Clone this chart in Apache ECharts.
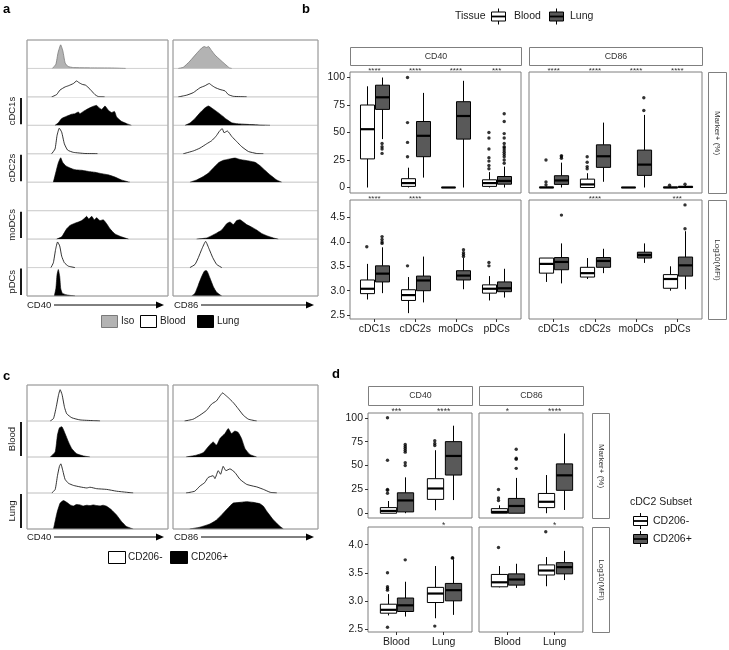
<!DOCTYPE html>
<html><head><meta charset="utf-8">
<script src="https://cdn.jsdelivr.net/npm/echarts@6/dist/echarts.min.js"></script>
<style>html,body{margin:0;padding:0;background:#fff}#c{width:729px;height:650px}</style>
</head><body><div id="c"></div>
<script>
// ---------------- DATA ----------------
// Panel a: density histograms, [x position 0-100 across column, height 0-1 of row]
const aCD40_iso = [[18,0],[20.5,0.15],[22,0.55],[23.9,0.83],[25.5,0.6],[27,0.2],[29,0.07],[33,0.03],[45,0.02],[60,0.015],[70,0]];
const aCD40_cDC1_blood = [[17.5,0],[21,0.08],[23.4,0.24],[27,0.35],[29.3,0.39],[32.9,0.47],[35.2,0.56],[36.9,0.5],[39.2,0.44],[41.6,0.41],[44.7,0.27],[48.2,0.08],[50.6,0.01],[55,0]];
const aCD40_cDC1_lung = [[19.9,0],[22.2,0.09],[24.6,0.24],[28.1,0.32],[31.7,0.39],[34,0.41],[36.4,0.47],[37.5,0.41],[40,0.49],[43.5,0.59],[47,0.67],[49.4,0.7],[51,0.62],[53,0.56],[55.3,0.68],[57.7,0.53],[60,0.45],[62,0.49],[63.6,0.29],[67,0.14],[70.7,0.06],[74,0]];
const aCD40_cDC2_blood = [[17.5,0],[19.9,0.17],[21.3,0.64],[22.9,0.9],[24.6,0.76],[26.5,0.35],[28.8,0.13],[32.9,0.05],[41,0.01],[50,0]];
const aCD40_cDC2_lung = [[18.7,0],[20.3,0.32],[22.2,0.68],[23.9,0.86],[25.3,0.7],[27.4,0.58],[30.5,0.5],[34,0.44],[38.8,0.42],[43.5,0.38],[48.2,0.35],[53,0.3],[57.7,0.26],[62.4,0.18],[67,0.08],[71.9,0.01],[73,0]];
const aCD40_moDC_lung = [[21,0],[24.6,0.08],[28.1,0.36],[30.5,0.48],[34,0.56],[36.4,0.6],[38.8,0.65],[41,0.74],[42.3,0.8],[43.8,0.71],[45.9,0.8],[47.7,0.68],[49.4,0.75],[51.8,0.65],[54,0.68],[56.5,0.54],[58.9,0.36],[62.4,0.18],[67,0.08],[72,0]];
const aCD40_pDC_blood = [[17,0],[18.7,0.17],[20.3,0.64],[21.7,0.9],[23.2,0.76],[24.6,0.4],[26.5,0.17],[29.3,0.05],[34,0]];
const aCD40_pDC_lung = [[19.4,0],[20.5,0.27],[21.3,0.75],[22.2,0.93],[23.2,0.69],[23.9,0.27],[25,0.1],[28,0.04],[34,0]];

const aCD86_iso = [[3.7,0],[7.1,0.04],[11.7,0.26],[16.3,0.53],[19.8,0.72],[21.6,0.77],[23,0.74],[24.6,0.77],[26,0.67],[29,0.47],[32.4,0.31],[35.9,0.15],[38.9,0.02],[40.5,0]];
const aCD86_cDC1_blood = [[3.7,0],[9.4,0.06],[14,0.15],[18.6,0.32],[22,0.39],[25,0.47],[26.6,0.41],[29,0.33],[32.4,0.26],[35.9,0.21],[38.2,0.08],[41.6,0.02],[50.8,0]];
const aCD86_cDC1_lung = [[8.3,0],[11.7,0.08],[15.2,0.24],[18.6,0.44],[22,0.61],[24.4,0.68],[26.7,0.61],[30,0.49],[33.6,0.35],[37,0.21],[40.5,0.09],[43.9,0.06],[50.8,0.035],[60,0.01],[66.9,0]];
const aCD86_cDC2_blood = [[7.1,0],[14,0.1],[18.6,0.2],[23.2,0.35],[26.7,0.46],[29,0.58],[30,0.64],[32.4,0.82],[34,0.88],[35.2,0.74],[37.5,0.8],[40.5,0.61],[43.9,0.43],[47.4,0.25],[52,0.08],[57.7,0.01],[62.3,0]];
const aCD86_cDC2_lung = [[11.7,0],[16.3,0.08],[20.9,0.2],[24.4,0.32],[27.8,0.5],[31.3,0.68],[34.7,0.77],[39.3,0.82],[42.8,0.85],[46.2,0.8],[49.7,0.77],[53.1,0.74],[56.6,0.7],[60,0.58],[63.4,0.42],[66.9,0.26],[71.5,0.08],[75,0]];
const aCD86_moDC_lung = [[16.3,0],[23.2,0.04],[26.7,0.12],[30,0.21],[33.6,0.32],[37,0.54],[39.3,0.6],[41.6,0.51],[43.9,0.65],[46.2,0.68],[48.5,0.6],[50.8,0.51],[54.3,0.42],[57.7,0.32],[61.1,0.2],[64.6,0.12],[69.2,0.04],[72.6,0]];
const aCD86_pDC_blood = [[11.7,0],[15.2,0.11],[17.5,0.35],[19.8,0.64],[22.5,0.92],[25,0.64],[27.4,0.35],[30.1,0.11],[33.6,0]];
const aCD86_pDC_lung = [[12.9,0],[15.2,0.1],[17.5,0.39],[19.8,0.69],[22,0.89],[23.2,0.89],[25.5,0.63],[27.8,0.33],[30.1,0.13],[33.6,0]];

// Panel c: CD206- / CD206+ cDC2 histograms
const cCD40_blood_neg = [[16.5,0],[18.8,0.07],[20.7,0.38],[22.4,0.73],[23.5,0.87],[24.9,0.73],[26.6,0.38],[28.2,0.2],[31.8,0.09],[37.6,0.03],[47,0.01],[51.8,0]];
const cCD40_blood_pos = [[16.5,0],[20,0.14],[21.6,0.61],[23,0.81],[24.7,0.84],[27,0.65],[29.4,0.42],[31.8,0.23],[35.3,0.09],[40,0.03],[44.7,0]];
const cCD40_lung_neg = [[17.6,0],[20,0.1],[21.6,0.48],[23,0.74],[24,0.81],[25.4,0.62],[27,0.38],[29.4,0.27],[33,0.21],[37.6,0.17],[42.4,0.14],[44.7,0.16],[49.4,0.12],[56.5,0.1],[63.5,0.05],[70.6,0.02],[75.3,0]];
const cCD40_lung_pos = [[18.8,0],[21.2,0.44],[23.5,0.72],[25.9,0.79],[28.2,0.74],[30.6,0.67],[33,0.64],[35,0.68],[37.6,0.67],[40,0.64],[42.4,0.66],[44.7,0.65],[47,0.67],[49.4,0.65],[51.8,0.64],[54,0.66],[56.5,0.63],[60,0.53],[63.5,0.39],[67,0.21],[70.6,0.07],[75.3,0]];
const cCD86_blood_neg = [[8,0],[13.9,0.05],[18.5,0.16],[23,0.29],[26.6,0.47],[30,0.56],[32.3,0.69],[34.2,0.78],[35.8,0.73],[38.1,0.65],[41.6,0.51],[45,0.34],[48.5,0.16],[52,0.05],[57.7,0]];
const cCD86_blood_pos = [[9,0],[16,0.05],[20.8,0.12],[24.2,0.28],[27.7,0.42],[30,0.33],[32.3,0.51],[35.8,0.65],[38.1,0.79],[40.4,0.65],[42.7,0.72],[45,0.68],[47.3,0.51],[49.7,0.23],[53,0.07],[57.7,0]];
const cCD86_lung_neg = [[9,0],[15,0.05],[18.5,0.19],[21.9,0.29],[24.2,0.43],[27.7,0.48],[28.9,0.4],[31.2,0.62],[32.8,0.52],[34.6,0.74],[36.5,0.62],[39.3,0.67],[42.7,0.57],[46.2,0.38],[50.8,0.24],[55.4,0.19],[57.7,0.17],[62.4,0.1],[67,0.02],[71.6,0]];
const cCD86_lung_pos = [[11.5,0],[18.5,0.05],[25.4,0.14],[30,0.25],[34.6,0.44],[39.3,0.64],[41.6,0.72],[46.2,0.74],[50.8,0.76],[55.4,0.74],[60,0.7],[62.4,0.63],[64.7,0.49],[69.3,0.25],[73.9,0.07],[76.2,0]];

// Panel b: boxplots [lower whisker, Q1, median, Q3, upper whisker]
const cellTypes = ['cDC1s','cDC2s','moDCs','pDCs'];
const bCD40PctBlood = [[0,26,53,75,92],[0,1,4,8,18],[0,0,0,0,0],[0,1,4,7,14]];
const bCD40PctBloodOut = [[],[28,41,59,100],[],[17,20,24,27,35,45,50]];
const bCD40PctLung = [[44,71,82,93,100],[9,28,47,60,86],[0,44,65,78,97],[0,3,6,10,19]];
const bCD40PctLungOut = [[40,37,35,31],[],[],[22,25,28,30,32,34,36,37,40,45,49,60,67]];
const bCD86PctBlood = [[0,0,0,0.3,1],[0,0,2.8,7.6,13],[0,0,0,0,0],[0,0,0,0.3,1]];
const bCD86PctBloodOut = [[2.4,5,25],[17,19,23,28],[],[2]];
const bCD86PctLung = [[0,2.8,6.4,10.7,22.6],[5.2,18.3,28.4,38.8,59],[0,11,20.8,34,66],[0,0,0.5,1,2]];
const bCD86PctLungOut = [[26.5,28,29],[],[70,81.6],[3]];
const bCD40MfiBlood = [[2.82,2.94,3.04,3.22,3.55],[2.54,2.80,2.91,3.02,3.28],null,[2.80,2.95,3.04,3.12,3.30]];
const bCD40MfiBloodOut = [[3.9],[3.51],[],[3.51,3.58]];
const bCD40MfiLung = [[2.95,3.18,3.35,3.51,3.89],[2.76,3.0,3.21,3.30,3.70],[3.03,3.22,3.31,3.41,3.67],[2.86,2.98,3.05,3.18,3.45]];
const bCD40MfiLungOut = [[3.97,4.0,4.05,4.11],[],[3.70,3.74,3.78,3.84],[]];
const bCD86MfiBlood = [[3.18,3.36,3.55,3.67,3.67],[3.24,3.28,3.36,3.48,3.67],null,[3.0,3.05,3.24,3.33,3.50]];
const bCD86MfiBloodOut = [[],[],[],[]];
const bCD86MfiLung = [[3.15,3.43,3.59,3.68,3.97],[3.36,3.48,3.61,3.68,3.86],[3.57,3.67,3.73,3.79,3.97],[3.03,3.30,3.52,3.69,4.22]];
const bCD86MfiLungOut = [[4.55],[],[],[4.27,4.76]];
const bStarsPctCD40 = ['****','****','****','***'];
const bStarsPctCD86 = ['****','****','****','****'];
const bStarsMfiCD40 = ['****','****','',''];
const bStarsMfiCD86 = ['','****','','***'];

// Panel d: boxplots by tissue for CD206- / CD206+ cDC2s
const tissues = ['Blood','Lung'];
const dCD40PctNeg = [[0,0,2.4,5.9,12.8],[3.1,14.5,25.9,36.2,66]];
const dCD40PctNegOut = [[21,24,25,55.5,100],[71,73,76]];
const dCD40PctPos = [[0,1.4,13.4,21.4,37.6],[13.8,40,60,75,91.7]];
const dCD40PctPosOut = [[50,53,64,66,68,70,72],[]];
const dCD86PctNeg = [[0,0,1.4,4.8,8.3],[0,5.9,12,20.7,40]];
const dCD86PctNegOut = [[13.4,16,24.8],[]];
const dCD86PctPos = [[0,0,7.6,15.5,37],[3.4,24,39.7,51.7,83.5]];
const dCD86PctPosOut = [[47,56.5,57.6,67],[]];
const dCD40MfiNeg = [[2.74,2.78,2.84,2.94,3.12],[2.69,2.97,3.13,3.24,3.62]];
const dCD40MfiNegOut = [[2.53,3.19,3.22,3.25,3.50],[2.55]];
const dCD40MfiPos = [[2.72,2.81,2.92,3.05,3.34],[2.75,3.0,3.19,3.31,3.74]];
const dCD40MfiPosOut = [[3.73],[3.76,3.77]];
const dCD86MfiNeg = [[3.24,3.25,3.33,3.47,3.62],[3.26,3.46,3.54,3.64,3.78]];
const dCD86MfiNegOut = [[3.95],[4.23]];
const dCD86MfiPos = [[3.23,3.28,3.38,3.48,3.66],[3.37,3.48,3.6,3.68,3.89]];
const dCD86MfiPosOut = [[],[]];
const dStarsPctCD40 = ['***','****'];
const dStarsPctCD86 = ['*','****'];
const dStarsMfiCD40 = ['','*'];
const dStarsMfiCD86 = ['','*'];

const pctTicks = [0,25,50,75,100];
const bMfiTicks = [2.5,3.0,3.5,4.0,4.5];
const dMfiTicks = [2.5,3.0,3.5,4.0];

// ---------------- BUILD ----------------
const FONT = '"Liberation Sans", Arial, Helvetica, sans-serif';
const LUNG_FILL = '#595959';
const grids = [], xAxes = [], yAxes = [], series = [], G = [];

function addGrid(g, xa, ya) {
  g.outerBoundsMode = 'none';
  grids.push(g);
  const i = grids.length - 1;
  xa.gridIndex = i; ya.gridIndex = i;
  xAxes.push(xa); yAxes.push(ya);
  return i;
}
function txt(x, y, s, o) {
  o = o || {};
  return {type:'text', x, y, rotation:o.rot || 0, z:100, silent:true,
    style:{text:s, x:0, y:0, fontSize:o.size || 10, fontFamily:FONT, fontWeight:o.bold ? 'bold' : 'normal',
      fill:o.color || '#1a1a1a', align:o.align || 'left', verticalAlign:o.va || 'middle',
      textAlign:o.align || 'left', textVerticalAlign:o.va || 'middle'}};
}
function rect(x, y, w, h, fill, stroke, lw) {
  return {type:'rect', z:100, silent:true, shape:{x, y, width:w, height:h}, style:{fill:fill, stroke:stroke || null, lineWidth:lw || 1}};
}
function line(x1, y1, x2, y2, stroke, lw) {
  return {type:'line', z:100, silent:true, shape:{x1, y1, x2, y2}, style:{stroke:stroke || '#000', lineWidth:lw || 1}};
}

// Histogram cells
const KIND = {
  iso:{fill:'#b3b3b3', stroke:'#7a7a7a', w:0.8},
  white:{fill:'#ffffff', stroke:'#000000', w:0.8},
  black:{fill:'#000000', stroke:'#000000', w:0.6}
};
function histCell(left, top, width, height, data, kind) {
  const i = addGrid({left, top, width, height, show:true, borderColor:'#d4d4d4', borderWidth:1},
    {type:'value', min:0, max:100, show:false}, {type:'value', min:0, max:1, show:false});
  if (data) {
    const k = KIND[kind];
    series.push({type:'line', xAxisIndex:i, yAxisIndex:i, data, symbol:'none', smooth:0.15, silent:true,
      lineStyle:{color:k.stroke, width:k.w}, areaStyle:{color:k.fill, opacity:1}});
  }
}
function histColumn(left, top, width, rowH, rows) {
  rows.forEach((r, j) => histCell(left, top + j * rowH, width, rowH, r ? r[0] : null, r ? r[1] : null));
  G.push({type:'rect', z:101, silent:true, shape:{x:left, y:top, width, height:rowH * rows.length}, style:{fill:'none', stroke:'#9a9a9a', lineWidth:1}});
}

// Panel a
const aTop = 40, aRowH = 256 / 9;
histColumn(27, aTop, 141, aRowH, [
  [aCD40_iso,'iso'], [aCD40_cDC1_blood,'white'], [aCD40_cDC1_lung,'black'],
  [aCD40_cDC2_blood,'white'], [aCD40_cDC2_lung,'black'], null,
  [aCD40_moDC_lung,'black'], [aCD40_pDC_blood,'white'], [aCD40_pDC_lung,'black']]);
histColumn(173, aTop, 145, aRowH, [
  [aCD86_iso,'iso'], [aCD86_cDC1_blood,'white'], [aCD86_cDC1_lung,'black'],
  [aCD86_cDC2_blood,'white'], [aCD86_cDC2_lung,'black'], null,
  [aCD86_moDC_lung,'black'], [aCD86_pDC_blood,'white'], [aCD86_pDC_lung,'black']]);
[['cDC1s',2],['cDC2s',4],['moDCs',6],['pDCs',8]].forEach(([lab, r]) => {
  const y0 = aTop + r * aRowH;
  G.push(line(21, y0 + 1, 21, y0 + aRowH - 1, '#000', 1.8));
  G.push(txt(12.5, y0 + aRowH / 2, lab, {rot:Math.PI / 2, align:'center', size:9.5}));
});

// Panel c
const cTop = 385, cRowH = 36;
histColumn(27, cTop, 141, cRowH, [
  [cCD40_blood_neg,'white'], [cCD40_blood_pos,'black'], [cCD40_lung_neg,'white'], [cCD40_lung_pos,'black']]);
histColumn(173, cTop, 145, cRowH, [
  [cCD86_blood_neg,'white'], [cCD86_blood_pos,'black'], [cCD86_lung_neg,'white'], [cCD86_lung_pos,'black']]);
[['Blood',1],['Lung',3]].forEach(([lab, r]) => {
  const y0 = cTop + r * cRowH;
  G.push(line(21, y0 + 1, 21, y0 + cRowH - 1, '#000', 1.8));
  G.push(txt(12.5, y0 + cRowH / 2, lab, {rot:Math.PI / 2, align:'center', size:9.5}));
});

// Arrow axes for a and c
function arrowAxis(x, y, label, x2) {
  G.push(txt(x, y, label, {size:9.5}));
  G.push(line(x + 27, y, x2 - 7, y, '#000', 1));
  G.push({type:'polygon', z:100, silent:true, shape:{points:[[x2 - 8, y - 3.5],[x2, y],[x2 - 8, y + 3.5]]}, style:{fill:'#000'}});
}
arrowAxis(27, 305, 'CD40', 164); arrowAxis(174, 305, 'CD86', 314);
arrowAxis(27, 537, 'CD40', 164); arrowAxis(174, 537, 'CD86', 314);

// Legends for a and c
G.push(rect(101.5, 315.5, 16, 12, '#b3b3b3', '#7a7a7a')); G.push(txt(121, 321.5, 'Iso', {size:10}));
G.push(rect(140.5, 315.5, 16, 12, '#fff', '#000')); G.push(txt(160, 321.5, 'Blood', {size:10}));
G.push(rect(197.5, 315.5, 16, 12, '#000', '#000')); G.push(txt(217, 321.5, 'Lung', {size:10}));
G.push(rect(108.5, 551.5, 17, 12, '#fff', '#000')); G.push(txt(128, 557.5, 'CD206-', {size:10}));
G.push(rect(170.5, 551.5, 17, 12, '#000', '#000')); G.push(txt(191, 557.5, 'CD206+', {size:10}));

// Box plot helpers
const OFF = 0.1875, HALF = 0.172;
function boxRender(fill) {
  return function (params, api) {
    const x = api.value(0);
    const v = [1,2,3,4,5].map(d => api.value(d));
    const hw = api.size([HALF, 0])[0];
    const p = v.map(val => api.coord([x, val]));
    const cx = Math.round(p[0][0]) + 0.5;
    return {type:'group', children:[
      {type:'line', shape:{x1:cx, y1:p[3][1], x2:cx, y2:p[4][1]}, style:{stroke:'#000', lineWidth:1}},
      {type:'line', shape:{x1:cx, y1:p[1][1], x2:cx, y2:p[0][1]}, style:{stroke:'#000', lineWidth:1}},
      {type:'rect', shape:{x:cx - hw, y:p[3][1], width:2 * hw, height:p[1][1] - p[3][1]}, style:{fill, stroke:'#000', lineWidth:1}},
      {type:'line', shape:{x1:cx - hw, y1:p[2][1], x2:cx + hw, y2:p[2][1]}, style:{stroke:'#000', lineWidth:2.2}}
    ]};
  };
}
function boxGroup(gi, stats, outliers, off, fill) {
  series.push({type:'custom', xAxisIndex:gi, yAxisIndex:gi, renderItem:boxRender(fill), silent:true,
    encode:{x:0, y:[1,2,3,4,5]},
    data:stats.map((s, k) => s ? [k + 1 + off].concat(s) : null).filter(Boolean)});
  const pts = [];
  outliers.forEach((arr, k) => arr.forEach(v => pts.push([k + 1 + off, v])));
  series.push({type:'scatter', xAxisIndex:gi, yAxisIndex:gi, data:pts, symbolSize:3.4, silent:true,
    itemStyle:{color:'#000'}});
}
function starSeries(gi, labels, size) {
  series.push({type:'custom', xAxisIndex:gi, yAxisIndex:gi, clip:false, silent:true,
    data:labels.map((s, k) => [k + 1]),
    encode:{x:0},
    renderItem(params, api) {
      const s = labels[params.dataIndex];
      if (!s) return null;
      const x = api.coord([api.value(0), yAxes[gi].min])[0];
      return {type:'text', x, y:params.coordSys.y - 1.5,
        style:{text:s, fontSize:size, fontFamily:FONT, fill:'#333', align:'center', verticalAlign:'middle',
          textAlign:'center', textVerticalAlign:'middle'}};
    }});
}
function boxPanel(left, top, width, height, cats, yMin, yMax, ticks, fmt, showX, showY) {
  const xv = cats.map((_, k) => k + 1);
  return addGrid({left, top, width, height, show:true, borderColor:'#7f7f7f', borderWidth:1},
    {type:'value', min:0.4, max:cats.length + 0.6, splitLine:{show:false}, axisLine:{show:false},
      axisTick:{show:showX, length:3, customValues:xv, lineStyle:{color:'#333', width:1}},
      axisLabel:{show:showX, customValues:xv, formatter:v => cats[Math.round(v) - 1], fontSize:10.5,
        color:'#1a1a1a', fontFamily:FONT, margin:5}},
    {type:'value', min:yMin, max:yMax, splitLine:{show:false}, axisLine:{show:false},
      axisTick:{show:showY, length:3, customValues:ticks, lineStyle:{color:'#333', width:1}},
      axisLabel:{show:showY, customValues:ticks, formatter:fmt, fontSize:10.5, color:'#1a1a1a',
        fontFamily:FONT, margin:5}});
}
const fmtPct = v => String(Math.round(v));
const fmtMfi = v => v.toFixed(1);

// Panel b grids
const b1 = boxPanel(350, 72, 171, 121, cellTypes, -5, 105, pctTicks, fmtPct, false, true);
const b2 = boxPanel(529, 72, 173, 121, cellTypes, -5, 105, pctTicks, fmtPct, false, false);
const b3 = boxPanel(350, 200, 171, 119, cellTypes, 2.42, 4.86, bMfiTicks, fmtMfi, true, true);
const b4 = boxPanel(529, 200, 173, 119, cellTypes, 2.42, 4.86, bMfiTicks, fmtMfi, true, false);
boxGroup(b1, bCD40PctBlood, bCD40PctBloodOut, -OFF, '#fff'); boxGroup(b1, bCD40PctLung, bCD40PctLungOut, OFF, LUNG_FILL);
boxGroup(b2, bCD86PctBlood, bCD86PctBloodOut, -OFF, '#fff'); boxGroup(b2, bCD86PctLung, bCD86PctLungOut, OFF, LUNG_FILL);
boxGroup(b3, bCD40MfiBlood, bCD40MfiBloodOut, -OFF, '#fff'); boxGroup(b3, bCD40MfiLung, bCD40MfiLungOut, OFF, LUNG_FILL);
boxGroup(b4, bCD86MfiBlood, bCD86MfiBloodOut, -OFF, '#fff'); boxGroup(b4, bCD86MfiLung, bCD86MfiLungOut, OFF, LUNG_FILL);
starSeries(b1, bStarsPctCD40, 8); starSeries(b2, bStarsPctCD86, 8);
starSeries(b3, bStarsMfiCD40, 8); starSeries(b4, bStarsMfiCD86, 8);

// Panel d grids
const d1 = boxPanel(368, 413, 104, 105, tissues, -5, 105, pctTicks, fmtPct, false, true);
const d2 = boxPanel(479, 413, 104, 105, tissues, -5, 105, pctTicks, fmtPct, false, false);
const d3 = boxPanel(368, 527, 104, 105, tissues, 2.445, 4.315, dMfiTicks, fmtMfi, true, true);
const d4 = boxPanel(479, 527, 104, 105, tissues, 2.445, 4.315, dMfiTicks, fmtMfi, true, false);
boxGroup(d1, dCD40PctNeg, dCD40PctNegOut, -OFF, '#fff'); boxGroup(d1, dCD40PctPos, dCD40PctPosOut, OFF, LUNG_FILL);
boxGroup(d2, dCD86PctNeg, dCD86PctNegOut, -OFF, '#fff'); boxGroup(d2, dCD86PctPos, dCD86PctPosOut, OFF, LUNG_FILL);
boxGroup(d3, dCD40MfiNeg, dCD40MfiNegOut, -OFF, '#fff'); boxGroup(d3, dCD40MfiPos, dCD40MfiPosOut, OFF, LUNG_FILL);
boxGroup(d4, dCD86MfiNeg, dCD86MfiNegOut, -OFF, '#fff'); boxGroup(d4, dCD86MfiPos, dCD86MfiPosOut, OFF, LUNG_FILL);
starSeries(d1, dStarsPctCD40, 8.5); starSeries(d2, dStarsPctCD86, 8.5);
starSeries(d3, dStarsMfiCD40, 8.5); starSeries(d4, dStarsMfiCD86, 8.5);

// Strips
function strip(x, y, w, h, label, vertical) {
  G.push(rect(x + 0.5, y + 0.5, w, h, '#fff', '#7f7f7f'));
  G.push(txt(x + 0.5 + w / 2, y + 0.5 + h / 2, label,
    {align:'center', size:vertical ? 8 : 8.8, color:'#333', rot:vertical ? -Math.PI / 2 : 0}));
}
strip(350, 47, 171, 18, 'CD40'); strip(529, 47, 173, 18, 'CD86');
strip(708, 72, 18, 121, 'Marker+ (%)', true); strip(708, 200, 18, 119, 'Log10(MFI)', true);
strip(368, 386, 104, 19, 'CD40'); strip(479, 386, 104, 19, 'CD86');
strip(592, 413, 17, 105, 'Marker+ (%)', true); strip(592, 527, 17, 105, 'Log10(MFI)', true);

// Legend keys (boxplot glyphs)
function boxKey(x, yc, fill) {
  G.push(line(x + 7.5, yc - 8, x + 7.5, yc - 4.5, '#000', 1));
  G.push(line(x + 7.5, yc + 4.5, x + 7.5, yc + 8, '#000', 1));
  G.push(rect(x + 0.5, yc - 4.5, 14, 9, fill, '#000'));
  G.push(line(x + 0.5, yc, x + 14.5, yc, '#000', 1.8));
}
G.push(txt(455, 16.5, 'Tissue', {size:10.5}));
boxKey(491, 16.5, '#fff'); G.push(txt(514, 16.5, 'Blood', {size:10.5}));
boxKey(549, 16.5, LUNG_FILL); G.push(txt(570, 16.5, 'Lung', {size:10.5}));
G.push(txt(630, 502, 'cDC2 Subset', {size:10.5}));
boxKey(633, 521, '#fff'); G.push(txt(653, 521, 'CD206-', {size:10.5}));
boxKey(633, 539, LUNG_FILL); G.push(txt(653, 539, 'CD206+', {size:10.5}));

// Panel letters
G.push(txt(3, 9, 'a', {size:13, bold:true, color:'#000'}));
G.push(txt(302, 9, 'b', {size:13, bold:true, color:'#000'}));
G.push(txt(3, 376, 'c', {size:13, bold:true, color:'#000'}));
G.push(txt(332, 374, 'd', {size:13, bold:true, color:'#000'}));

const chart = echarts.init(document.getElementById('c'), null, {renderer:'canvas'});
chart.setOption({
  animation:false,
  backgroundColor:'#fff',
  grid:grids, xAxis:xAxes, yAxis:yAxes, series:series,
  graphic:{elements:G}
});
</script></body></html>
